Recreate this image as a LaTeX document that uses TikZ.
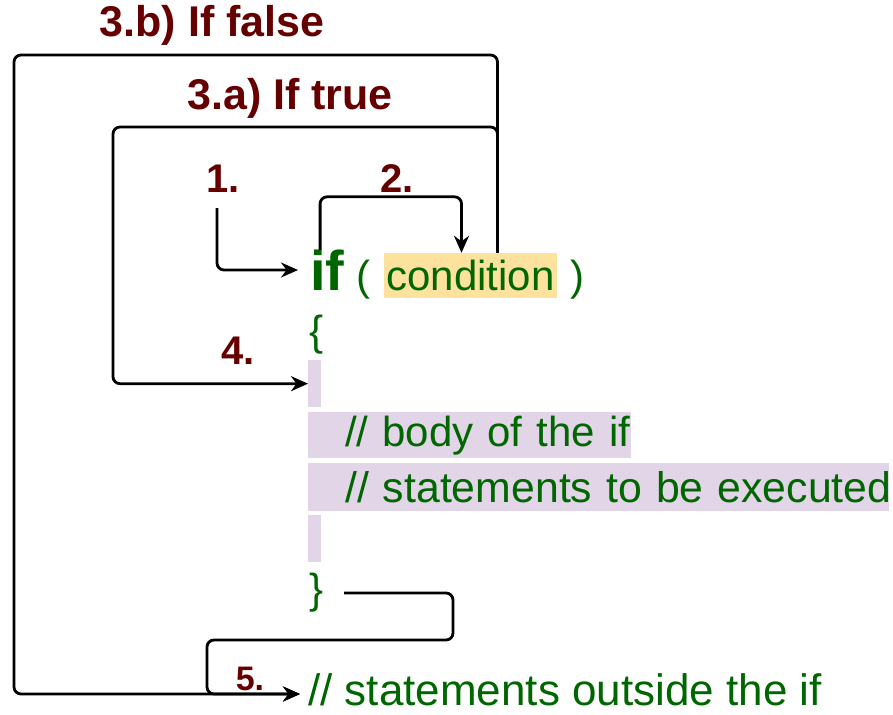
\documentclass[tikz,border=0pt]{standalone}
\usepackage{fontspec}
\setmainfont{Liberation Sans}
\usepackage{tikz}
\usetikzlibrary{positioning,arrows.meta}
\definecolor{CodeGreen}{RGB}{0,102,0}
\definecolor{StepRed}{RGB}{102,0,0}
\definecolor{BodyLilac}{RGB}{225,213,231}
\definecolor{CondGold}{RGB}{252,226,156}
\newcommand{\codefont}{\fontsize{42}{48}\selectfont}
\newcommand{\stepfont}{\fontsize{40}{46}\selectfont\bfseries}

\begin{document}
\begin{tikzpicture}[
  x=1pt,y=-1pt,
  code/.style={text=CodeGreen,font=\codefont,inner sep=0pt},
  stepnum/.style={text=StepRed,font=\stepfont,inner sep=0pt,anchor=base},
  bar/.style={fill=BodyLilac,inner sep=0pt,anchor=north west,minimum height=46pt},
  flow/.style={-{Stealth[length=17pt,width=15pt]},line width=2.8pt,rounded corners=7pt},
]
\useasboundingbox (0,0) rectangle (893,714);

% —— code lines ——
\node[code,font=\fontsize{56}{60}\selectfont\bfseries,text height=40pt,text depth=0pt,
  outer xsep=12pt,anchor=base west] (ifkw) at (298,290) {if};
\node[code,anchor=base] (lpar) at (363,290) {(};
\node[code,fill=CondGold,minimum width=173pt,text height=37pt,text depth=8pt,
  anchor=base] (cond) at (470.5,290) {condition};
\node[code,anchor=base] (rpar) at (577,290) {)};
\node[code] (open) at (317,335) {\{};
\node[bar,minimum width=13pt,minimum height=47pt] (gapA) at (308,360) {};
\node[bar,code,text width=323pt,align=left] (body) at (308,412)
  {\mbox{\hspace*{37pt}// body of the if}};
\node[bar,code,text width=581pt,align=left,minimum height=48pt] (stmts) at (308,463)
  {\mbox{\hspace*{37pt}\fontsize{42.8}{48}\selectfont// statements to be executed}};
\node[bar,minimum width=13pt,minimum height=47pt] (gapB) at (308,515) {};
\node[code] (close) at (317,593) {\}};
\node[code,font=\fontsize{44}{48}\selectfont,inner xsep=8pt,text height=30pt,text depth=8pt,
  anchor=base west] (after) at (300,705) {// statements outside the if};

% —— step labels ——
\node[stepnum,font=\fontsize{43}{48}\selectfont\bfseries] (falseLbl) at (212,37) {3.b) If false};
\node[stepnum,font=\fontsize{43}{48}\selectfont\bfseries] (trueLbl) at (290,110) {3.a) If true};
\node[stepnum] (one) at (223,193) {1.};
\node[stepnum] (two) at (397,193) {2.};
\node[stepnum] (four) at (238,364) {4.};
\node[stepnum,font=\fontsize{34}{40}\selectfont\bfseries] (five) at (250,690) {5.};

% —— control flow ——
\coordinate (trueCorner) at (113,127);
\coordinate (falseCorner) at (14,55);
\coordinate (exitR) at (453,640);
\coordinate (exitL) at (207,640);

\draw[flow] ([shift={(-6,15)}]one.south) |- (ifkw.west);
\draw[flow] ([xshift=-7pt]ifkw.north) -- ++(0,-53) -| ([xshift=-9pt]cond.north);
\draw[flow] ([xshift=27pt]cond.north) |- (trueCorner) |- (gapA.west);
\draw[flow] ([xshift=27pt]cond.north) |- (falseCorner) |- (after.west);
\draw[flow] ([xshift=20pt]close.east) -| (exitR) -- (exitL) |- (after.west);
\end{tikzpicture}
\end{document}
